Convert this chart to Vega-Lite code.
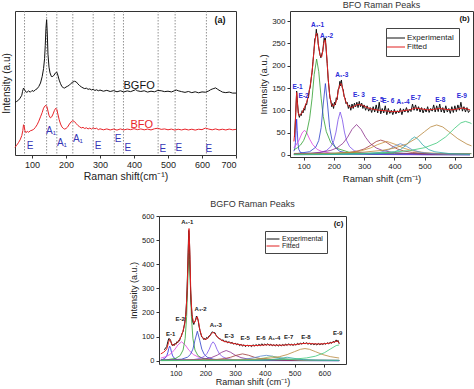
{
"$schema": "https://vega.github.io/schema/vega-lite/v6.json",
"padding": 0,
"background": "white",
"config": {
  "font": "Liberation Sans",
  "view": {"stroke": "#333", "strokeWidth": 1},
  "axis": {"grid": false, "domain": false, "tickColor": "#333", "labelColor": "#222", "titleColor": "#222", "titleFontWeight": "normal", "tickSize": 3, "labelPadding": 2, "titlePadding": 3},
  "title": {"fontWeight": "normal", "color": "#333", "fontSize": 9, "offset": 3}
},
"datasets": {
  "aSpec": [
    {"s":"BGFO","x":50,"y":36.5},{"s":"BGFO","x":55,"y":37.2},{"s":"BGFO","x":60,"y":38},{"s":"BGFO","x":65,"y":39.5},{"s":"BGFO","x":70,"y":41.5},{"s":"BGFO","x":72,"y":44},{"s":"BGFO","x":75,"y":46.5},{"s":"BGFO","x":78,"y":45.5},{"s":"BGFO","x":81,"y":44},{"s":"BGFO","x":85,"y":43.5},{"s":"BGFO","x":90,"y":44.5},{"s":"BGFO","x":95,"y":43.6},{"s":"BGFO","x":100,"y":44.8},{"s":"BGFO","x":105,"y":44.2},{"s":"BGFO","x":110,"y":45.3},{"s":"BGFO","x":115,"y":46},{"s":"BGFO","x":120,"y":47.6},{"s":"BGFO","x":125,"y":50},{"s":"BGFO","x":130,"y":54.5},{"s":"BGFO","x":134,"y":60},{"s":"BGFO","x":137,"y":67},{"s":"BGFO","x":139,"y":76},{"s":"BGFO","x":141,"y":88},{"s":"BGFO","x":143,"y":94},{"s":"BGFO","x":145,"y":84},{"s":"BGFO","x":147,"y":70},{"s":"BGFO","x":150,"y":61},{"s":"BGFO","x":153,"y":57},{"s":"BGFO","x":157,"y":54.5},{"s":"BGFO","x":161,"y":54.5},{"s":"BGFO","x":165,"y":55.5},{"s":"BGFO","x":169,"y":57},{"s":"BGFO","x":173,"y":57.5},{"s":"BGFO","x":176,"y":55.5},{"s":"BGFO","x":180,"y":52},{"s":"BGFO","x":184,"y":49.5},{"s":"BGFO","x":188,"y":47.5},{"s":"BGFO","x":192,"y":46.8},{"s":"BGFO","x":196,"y":46.5},{"s":"BGFO","x":200,"y":47.2},{"s":"BGFO","x":205,"y":47.8},{"s":"BGFO","x":210,"y":48.5},{"s":"BGFO","x":215,"y":49.8},{"s":"BGFO","x":220,"y":50.6},{"s":"BGFO","x":225,"y":51.2},{"s":"BGFO","x":230,"y":50.8},{"s":"BGFO","x":235,"y":49.4},{"s":"BGFO","x":240,"y":48.2},{"s":"BGFO","x":245,"y":47.3},{"s":"BGFO","x":250,"y":46.6},{"s":"BGFO","x":255,"y":46.1},{"s":"BGFO","x":260,"y":46.4},{"s":"BGFO","x":265,"y":45.6},{"s":"BGFO","x":270,"y":45.9},{"s":"BGFO","x":275,"y":45.2},{"s":"BGFO","x":280,"y":45.7},{"s":"BGFO","x":285,"y":44.8},{"s":"BGFO","x":290,"y":45.3},{"s":"BGFO","x":295,"y":44.6},{"s":"BGFO","x":300,"y":45.1},{"s":"BGFO","x":310,"y":44.3},{"s":"BGFO","x":320,"y":44.9},{"s":"BGFO","x":330,"y":44.1},{"s":"BGFO","x":340,"y":44.7},{"s":"BGFO","x":350,"y":43.9},{"s":"BGFO","x":360,"y":44.6},{"s":"BGFO","x":370,"y":43.8},{"s":"BGFO","x":380,"y":44.5},{"s":"BGFO","x":390,"y":44},{"s":"BGFO","x":400,"y":44.9},{"s":"BGFO","x":405,"y":45.4},{"s":"BGFO","x":410,"y":44.6},{"s":"BGFO","x":420,"y":44.1},{"s":"BGFO","x":430,"y":44.6},{"s":"BGFO","x":440,"y":43.7},{"s":"BGFO","x":450,"y":44.3},{"s":"BGFO","x":460,"y":43.9},{"s":"BGFO","x":470,"y":44.8},{"s":"BGFO","x":480,"y":44.6},{"s":"BGFO","x":490,"y":44},{"s":"BGFO","x":500,"y":44.3},{"s":"BGFO","x":510,"y":43.8},{"s":"BGFO","x":520,"y":44.7},{"s":"BGFO","x":525,"y":45.1},{"s":"BGFO","x":530,"y":44.6},{"s":"BGFO","x":540,"y":44},{"s":"BGFO","x":550,"y":43.5},{"s":"BGFO","x":560,"y":44.1},{"s":"BGFO","x":570,"y":43.3},{"s":"BGFO","x":580,"y":43.9},{"s":"BGFO","x":590,"y":43.2},{"s":"BGFO","x":600,"y":43.8},{"s":"BGFO","x":610,"y":43.6},{"s":"BGFO","x":620,"y":44.5},{"s":"BGFO","x":625,"y":45.3},{"s":"BGFO","x":630,"y":45.8},{"s":"BGFO","x":635,"y":46.2},{"s":"BGFO","x":640,"y":46.6},{"s":"BGFO","x":645,"y":45.8},{"s":"BGFO","x":650,"y":45},{"s":"BGFO","x":655,"y":44.4},{"s":"BGFO","x":660,"y":43.7},{"s":"BGFO","x":670,"y":43.3},{"s":"BGFO","x":680,"y":43.7},{"s":"BGFO","x":690,"y":43},{"s":"BGFO","x":700,"y":43},
    {"s":"BFO","x":50,"y":5.3},{"s":"BFO","x":55,"y":6.8},{"s":"BFO","x":60,"y":8.5},{"s":"BFO","x":65,"y":10.5},{"s":"BFO","x":70,"y":13.5},{"s":"BFO","x":73,"y":17},{"s":"BFO","x":75,"y":21},{"s":"BFO","x":77,"y":20},{"s":"BFO","x":79,"y":17},{"s":"BFO","x":82,"y":15.5},{"s":"BFO","x":86,"y":16.4},{"s":"BFO","x":90,"y":15.8},{"s":"BFO","x":95,"y":16.8},{"s":"BFO","x":100,"y":17.2},{"s":"BFO","x":105,"y":17.8},{"s":"BFO","x":110,"y":19.2},{"s":"BFO","x":115,"y":21},{"s":"BFO","x":120,"y":23.5},{"s":"BFO","x":125,"y":26.5},{"s":"BFO","x":130,"y":29.5},{"s":"BFO","x":134,"y":32.5},{"s":"BFO","x":138,"y":34},{"s":"BFO","x":141,"y":34.5},{"s":"BFO","x":144,"y":33.5},{"s":"BFO","x":147,"y":30.5},{"s":"BFO","x":150,"y":27.5},{"s":"BFO","x":154,"y":25.8},{"s":"BFO","x":158,"y":26.5},{"s":"BFO","x":162,"y":28.5},{"s":"BFO","x":166,"y":31},{"s":"BFO","x":170,"y":32.5},{"s":"BFO","x":173,"y":31.6},{"s":"BFO","x":176,"y":28.5},{"s":"BFO","x":180,"y":24.5},{"s":"BFO","x":184,"y":21.5},{"s":"BFO","x":188,"y":19.5},{"s":"BFO","x":192,"y":18.5},{"s":"BFO","x":196,"y":18},{"s":"BFO","x":200,"y":18.4},{"s":"BFO","x":205,"y":19.5},{"s":"BFO","x":210,"y":21.5},{"s":"BFO","x":215,"y":23},{"s":"BFO","x":220,"y":23.8},{"s":"BFO","x":225,"y":23.2},{"s":"BFO","x":230,"y":21.8},{"s":"BFO","x":235,"y":20.5},{"s":"BFO","x":240,"y":19.6},{"s":"BFO","x":245,"y":18.8},{"s":"BFO","x":250,"y":19.2},{"s":"BFO","x":255,"y":18.4},{"s":"BFO","x":260,"y":18.9},{"s":"BFO","x":265,"y":18.1},{"s":"BFO","x":270,"y":18.7},{"s":"BFO","x":275,"y":18},{"s":"BFO","x":280,"y":19},{"s":"BFO","x":285,"y":18.2},{"s":"BFO","x":290,"y":18.6},{"s":"BFO","x":295,"y":17.6},{"s":"BFO","x":300,"y":18.2},{"s":"BFO","x":310,"y":17.5},{"s":"BFO","x":320,"y":18.1},{"s":"BFO","x":330,"y":17.4},{"s":"BFO","x":340,"y":18},{"s":"BFO","x":350,"y":17.3},{"s":"BFO","x":360,"y":18.1},{"s":"BFO","x":370,"y":17.4},{"s":"BFO","x":380,"y":18},{"s":"BFO","x":390,"y":17.6},{"s":"BFO","x":400,"y":18.3},{"s":"BFO","x":410,"y":17.6},{"s":"BFO","x":420,"y":18.1},{"s":"BFO","x":430,"y":17.5},{"s":"BFO","x":440,"y":18},{"s":"BFO","x":450,"y":17.4},{"s":"BFO","x":460,"y":18.2},{"s":"BFO","x":470,"y":18.6},{"s":"BFO","x":480,"y":17.8},{"s":"BFO","x":490,"y":18.1},{"s":"BFO","x":500,"y":17.5},{"s":"BFO","x":510,"y":18},{"s":"BFO","x":520,"y":17.3},{"s":"BFO","x":530,"y":17.9},{"s":"BFO","x":540,"y":17.4},{"s":"BFO","x":550,"y":18},{"s":"BFO","x":560,"y":17.4},{"s":"BFO","x":570,"y":17.9},{"s":"BFO","x":580,"y":17.3},{"s":"BFO","x":590,"y":17.9},{"s":"BFO","x":600,"y":17.6},{"s":"BFO","x":610,"y":18.7},{"s":"BFO","x":620,"y":18},{"s":"BFO","x":630,"y":17.5},{"s":"BFO","x":640,"y":18.1},{"s":"BFO","x":650,"y":17.4},{"s":"BFO","x":660,"y":17.9},{"s":"BFO","x":670,"y":17.4},{"s":"BFO","x":680,"y":18},{"s":"BFO","x":690,"y":17.5},{"s":"BFO","x":700,"y":17.8}
  ],
  "aRules": [{"x":78},{"x":143},{"x":173},{"x":220},{"x":280},{"x":342},{"x":369},{"x":471},{"x":521},{"x":613}],
  "aLab": [{"x":94,"y":6,"t":"E"},{"x":156,"y":17,"t":"A₁"},{"x":188,"y":8,"t":"A₁"},{"x":235,"y":11,"t":"A₁"},{"x":294,"y":6,"t":"E"},{"x":353,"y":11,"t":"E"},{"x":382,"y":4.6,"t":"E"},{"x":485,"y":4,"t":"E"},{"x":532,"y":4.6,"t":"E"},{"x":620,"y":4,"t":"E"}],
  "bExp": [
    {"x":70,"y":40},{"x":74,"y":95},{"x":77,"y":143},{"x":80,"y":115},{"x":83,"y":92},{"x":86,"y":84},{"x":89,"y":92},{"x":92,"y":88},{"x":95,"y":99},{"x":98,"y":94},{"x":101,"y":104},{"x":104,"y":100},{"x":107,"y":114},{"x":110,"y":112},{"x":113,"y":126},{"x":116,"y":128},{"x":119,"y":146},{"x":122,"y":152},{"x":125,"y":172},{"x":128,"y":185},{"x":131,"y":210},{"x":134,"y":232},{"x":137,"y":260},{"x":140,"y":264},{"x":142,"y":282},{"x":144,"y":268},{"x":146,"y":272},{"x":148,"y":250},{"x":151,"y":238},{"x":154,"y":226},{"x":157,"y":218},{"x":160,"y":226},{"x":163,"y":232},{"x":166,"y":250},{"x":168,"y":262},{"x":170,"y":255},{"x":172,"y":262},{"x":175,"y":232},{"x":178,"y":205},{"x":181,"y":172},{"x":184,"y":150},{"x":187,"y":128},{"x":190,"y":122},{"x":193,"y":108},{"x":196,"y":115},{"x":199,"y":104},{"x":202,"y":118},{"x":205,"y":112},{"x":208,"y":128},{"x":211,"y":124},{"x":214,"y":146},{"x":217,"y":150},{"x":220,"y":165},{"x":222,"y":155},{"x":225,"y":168},{"x":228,"y":150},{"x":231,"y":146},{"x":234,"y":130},{"x":237,"y":128},{"x":240,"y":115},{"x":244,"y":118},{"x":248,"y":104},{"x":252,"y":112},{"x":256,"y":100},{"x":260,"y":114},{"x":264,"y":104},{"x":268,"y":116},{"x":272,"y":108},{"x":276,"y":118},{"x":280,"y":106},{"x":284,"y":120},{"x":288,"y":108},{"x":292,"y":116},{"x":296,"y":104},{"x":300,"y":112},{"x":305,"y":100},{"x":310,"y":110},{"x":315,"y":98},{"x":320,"y":106},{"x":325,"y":95},{"x":330,"y":108},{"x":335,"y":96},{"x":340,"y":112},{"x":345,"y":94},{"x":350,"y":118},{"x":355,"y":92},{"x":360,"y":104},{"x":365,"y":94},{"x":370,"y":110},{"x":375,"y":90},{"x":380,"y":104},{"x":385,"y":93},{"x":390,"y":100},{"x":395,"y":90},{"x":400,"y":102},{"x":405,"y":92},{"x":410,"y":99},{"x":415,"y":94},{"x":420,"y":104},{"x":425,"y":90},{"x":430,"y":103},{"x":435,"y":96},{"x":440,"y":106},{"x":445,"y":95},{"x":450,"y":102},{"x":455,"y":97},{"x":460,"y":114},{"x":465,"y":100},{"x":470,"y":112},{"x":475,"y":99},{"x":480,"y":108},{"x":485,"y":96},{"x":490,"y":106},{"x":495,"y":94},{"x":500,"y":104},{"x":505,"y":96},{"x":510,"y":108},{"x":515,"y":95},{"x":520,"y":104},{"x":525,"y":98},{"x":530,"y":112},{"x":535,"y":96},{"x":540,"y":110},{"x":545,"y":97},{"x":550,"y":114},{"x":555,"y":96},{"x":560,"y":106},{"x":565,"y":94},{"x":570,"y":110},{"x":575,"y":96},{"x":580,"y":104},{"x":585,"y":93},{"x":590,"y":108},{"x":595,"y":95},{"x":600,"y":110},{"x":605,"y":97},{"x":610,"y":112},{"x":615,"y":100},{"x":620,"y":118},{"x":625,"y":98},{"x":630,"y":108},{"x":635,"y":96},{"x":640,"y":106},{"x":645,"y":95},{"x":650,"y":100}
  ],
  "bFit": [
    {"x":68,"y":30},{"x":72,"y":60},{"x":75,"y":110},{"x":77,"y":140},{"x":79,"y":120},{"x":82,"y":95},{"x":86,"y":88},{"x":90,"y":90},{"x":95,"y":95},{"x":100,"y":102},{"x":105,"y":110},{"x":110,"y":118},{"x":115,"y":130},{"x":120,"y":148},{"x":125,"y":170},{"x":130,"y":200},{"x":135,"y":240},{"x":140,"y":268},{"x":143,"y":273},{"x":146,"y":265},{"x":150,"y":240},{"x":155,"y":222},{"x":160,"y":220},{"x":165,"y":240},{"x":168,"y":255},{"x":171,"y":258},{"x":174,"y":245},{"x":178,"y":205},{"x":182,"y":165},{"x":186,"y":135},{"x":190,"y":118},{"x":195,"y":110},{"x":200,"y":110},{"x":205,"y":115},{"x":210,"y":125},{"x":215,"y":145},{"x":220,"y":158},{"x":224,"y":160},{"x":228,"y":152},{"x":232,"y":138},{"x":238,"y":122},{"x":245,"y":112},{"x":255,"y":106},{"x":265,"y":108},{"x":275,"y":112},{"x":285,"y":113},{"x":295,"y":111},{"x":310,"y":106},{"x":330,"y":102},{"x":350,"y":100},{"x":370,"y":99},{"x":390,"y":97},{"x":410,"y":97},{"x":430,"y":99},{"x":450,"y":101},{"x":470,"y":105},{"x":490,"y":103},{"x":510,"y":101},{"x":530,"y":102},{"x":550,"y":104},{"x":570,"y":102},{"x":590,"y":101},{"x":610,"y":103},{"x":625,"y":105},{"x":640,"y":103},{"x":650,"y":101}
  ],
  "bComp": [
    {"c":"base","x":68,"y":3},{"c":"base","x":200,"y":3.5},{"c":"base","x":400,"y":3},{"c":"base","x":655,"y":2.5},
    {"c":"E-1","x":68,"y":8},{"c":"E-1","x":71,"y":15},{"c":"E-1","x":73,"y":28},{"c":"E-1","x":75,"y":55},{"c":"E-1","x":77,"y":80},{"c":"E-1","x":79,"y":55},{"c":"E-1","x":81,"y":28},{"c":"E-1","x":84,"y":12},{"c":"E-1","x":90,"y":5},{"c":"E-1","x":100,"y":3},{"c":"E-1","x":150,"y":2},{"c":"E-1","x":300,"y":1},{"c":"E-1","x":650,"y":0.5},
    {"c":"E-2","x":68,"y":16},{"c":"E-2","x":75,"y":22},{"c":"E-2","x":85,"y":33},{"c":"E-2","x":95,"y":49},{"c":"E-2","x":103,"y":55},{"c":"E-2","x":110,"y":50},{"c":"E-2","x":120,"y":35},{"c":"E-2","x":130,"y":23},{"c":"E-2","x":145,"y":12},{"c":"E-2","x":160,"y":7.4},{"c":"E-2","x":190,"y":3.4},{"c":"E-2","x":250,"y":1.2},{"c":"E-2","x":400,"y":0.4},{"c":"E-2","x":650,"y":0.2},
    {"c":"A1-1","x":68,"y":11},{"c":"A1-1","x":80,"y":16},{"c":"A1-1","x":90,"y":22},{"c":"A1-1","x":100,"y":32},{"c":"A1-1","x":110,"y":49},{"c":"A1-1","x":120,"y":82},{"c":"A1-1","x":128,"y":127},{"c":"A1-1","x":135,"y":180},{"c":"A1-1","x":143,"y":215},{"c":"A1-1","x":150,"y":187},{"c":"A1-1","x":158,"y":127},{"c":"A1-1","x":165,"y":86},{"c":"A1-1","x":175,"y":52},{"c":"A1-1","x":190,"y":27},{"c":"A1-1","x":210,"y":14.4},{"c":"A1-1","x":250,"y":5.8},{"c":"A1-1","x":300,"y":2.8},{"c":"A1-1","x":400,"y":1},{"c":"A1-1","x":500,"y":0.5},{"c":"A1-1","x":650,"y":0.3},
    {"c":"A1-2","x":68,"y":1.6},{"c":"A1-2","x":120,"y":6.9},{"c":"A1-2","x":140,"y":17},{"c":"A1-2","x":150,"y":32},{"c":"A1-2","x":158,"y":61},{"c":"A1-2","x":165,"y":114},{"c":"A1-2","x":172,"y":160},{"c":"A1-2","x":179,"y":114},{"c":"A1-2","x":186,"y":61},{"c":"A1-2","x":194,"y":32},{"c":"A1-2","x":205,"y":16},{"c":"A1-2","x":220,"y":7.6},{"c":"A1-2","x":250,"y":3.2},{"c":"A1-2","x":350,"y":0.6},{"c":"A1-2","x":650,"y":0.1},
    {"c":"A1-3","x":68,"y":0.8},{"c":"A1-3","x":120,"y":2},{"c":"A1-3","x":150,"y":4.2},{"c":"A1-3","x":175,"y":9.3},{"c":"A1-3","x":190,"y":18.4},{"c":"A1-3","x":200,"y":32},{"c":"A1-3","x":207,"y":51},{"c":"A1-3","x":214,"y":79},{"c":"A1-3","x":221,"y":96},{"c":"A1-3","x":228,"y":79},{"c":"A1-3","x":235,"y":51},{"c":"A1-3","x":242,"y":32},{"c":"A1-3","x":252,"y":18.3},{"c":"A1-3","x":267,"y":9.3},{"c":"A1-3","x":290,"y":4.3},{"c":"A1-3","x":350,"y":1.3},{"c":"A1-3","x":500,"y":0.3},{"c":"A1-3","x":650,"y":0.15},
    {"c":"E-3","x":68,"y":1.9},{"c":"E-3","x":120,"y":3.3},{"c":"E-3","x":160,"y":5.9},{"c":"E-3","x":190,"y":9.9},{"c":"E-3","x":210,"y":15.3},{"c":"E-3","x":230,"y":25.6},{"c":"E-3","x":245,"y":39},{"c":"E-3","x":260,"y":57},{"c":"E-3","x":275,"y":68},{"c":"E-3","x":290,"y":57},{"c":"E-3","x":305,"y":39},{"c":"E-3","x":320,"y":25.6},{"c":"E-3","x":340,"y":15.3},{"c":"E-3","x":360,"y":9.9},{"c":"E-3","x":390,"y":5.8},{"c":"E-3","x":430,"y":3.3},{"c":"E-3","x":500,"y":1.4},{"c":"E-3","x":650,"y":0.6},
    {"c":"E-5","x":68,"y":0.9},{"c":"E-5","x":150,"y":1.5},{"c":"E-5","x":200,"y":2.6},{"c":"E-5","x":250,"y":5.1},{"c":"E-5","x":280,"y":8.7},{"c":"E-5","x":300,"y":13},{"c":"E-5","x":320,"y":20.5},{"c":"E-5","x":340,"y":29.7},{"c":"E-5","x":355,"y":33},{"c":"E-5","x":370,"y":29.7},{"c":"E-5","x":390,"y":20.5},{"c":"E-5","x":410,"y":13},{"c":"E-5","x":430,"y":8.7},{"c":"E-5","x":460,"y":5.1},{"c":"E-5","x":510,"y":2.6},{"c":"E-5","x":600,"y":1.1},{"c":"E-5","x":650,"y":0.8},
    {"c":"E-6","x":68,"y":1},{"c":"E-6","x":150,"y":1.7},{"c":"E-6","x":200,"y":2.7},{"c":"E-6","x":250,"y":4.9},{"c":"E-6","x":290,"y":8.9},{"c":"E-6","x":320,"y":15},{"c":"E-6","x":345,"y":23},{"c":"E-6","x":375,"y":30},{"c":"E-6","x":405,"y":23},{"c":"E-6","x":430,"y":15},{"c":"E-6","x":460,"y":8.9},{"c":"E-6","x":500,"y":4.9},{"c":"E-6","x":560,"y":2.4},{"c":"E-6","x":650,"y":1.2},
    {"c":"A1-4","x":68,"y":0.3},{"c":"A1-4","x":200,"y":0.6},{"c":"A1-4","x":300,"y":1.9},{"c":"A1-4","x":350,"y":5},{"c":"A1-4","x":380,"y":10.8},{"c":"A1-4","x":400,"y":19},{"c":"A1-4","x":420,"y":25},{"c":"A1-4","x":440,"y":19},{"c":"A1-4","x":460,"y":10.8},{"c":"A1-4","x":490,"y":5},{"c":"A1-4","x":540,"y":1.9},{"c":"A1-4","x":650,"y":0.6},
    {"c":"E-7","x":68,"y":0.3},{"c":"E-7","x":250,"y":0.8},{"c":"E-7","x":350,"y":2.5},{"c":"E-7","x":400,"y":6.7},{"c":"E-7","x":420,"y":11.6},{"c":"E-7","x":440,"y":22},{"c":"E-7","x":455,"y":34.5},{"c":"E-7","x":467,"y":40},{"c":"E-7","x":479,"y":34.5},{"c":"E-7","x":494,"y":22},{"c":"E-7","x":514,"y":11.6},{"c":"E-7","x":534,"y":6.7},{"c":"E-7","x":584,"y":2.5},{"c":"E-7","x":650,"y":1.1},
    {"c":"E-8","x":68,"y":1.6},{"c":"E-8","x":100,"y":1.9},{"c":"E-8","x":200,"y":3.4},{"c":"E-8","x":300,"y":6},{"c":"E-8","x":360,"y":9.9},{"c":"E-8","x":400,"y":15},{"c":"E-8","x":440,"y":24},{"c":"E-8","x":470,"y":36},{"c":"E-8","x":500,"y":52},{"c":"E-8","x":520,"y":62.5},{"c":"E-8","x":540,"y":67},{"c":"E-8","x":560,"y":62.5},{"c":"E-8","x":580,"y":52},{"c":"E-8","x":610,"y":36},{"c":"E-8","x":640,"y":24},{"c":"E-8","x":655,"y":20},
    {"c":"E-9","x":68,"y":0.9},{"c":"E-9","x":100,"y":1.2},{"c":"E-9","x":200,"y":1.9},{"c":"E-9","x":300,"y":3.1},{"c":"E-9","x":400,"y":6.1},{"c":"E-9","x":450,"y":9.4},{"c":"E-9","x":500,"y":15.9},{"c":"E-9","x":540,"y":26.4},{"c":"E-9","x":570,"y":40.3},{"c":"E-9","x":600,"y":60},{"c":"E-9","x":620,"y":71.7},{"c":"E-9","x":635,"y":75},{"c":"E-9","x":650,"y":71.7},{"c":"E-9","x":655,"y":70}
  ],
  "bLab": [{"x":80,"y":153,"t":"E-1"},{"x":100,"y":133,"t":"E-2"},{"x":146,"y":291,"t":"A₁-1"},{"x":176,"y":267,"t":"A₁-2"},{"x":226,"y":179,"t":"A₁-3"},{"x":283,"y":134,"t":"E- 3"},{"x":345,"y":124,"t":"E- 5"},{"x":380,"y":121,"t":"E- 6"},{"x":429,"y":119,"t":"A₁-4"},{"x":471,"y":127,"t":"E-7"},{"x":552,"y":124,"t":"E-8"},{"x":623,"y":133,"t":"E-9"}],
  "cExp": [
    {"x":62,"y":45},{"x":66,"y":52},{"x":70,"y":58},{"x":74,"y":80},{"x":77,"y":92},{"x":80,"y":90},{"x":83,"y":84},{"x":86,"y":70},{"x":89,"y":62},{"x":92,"y":68},{"x":95,"y":63},{"x":98,"y":72},{"x":101,"y":68},{"x":104,"y":78},{"x":107,"y":74},{"x":110,"y":84},{"x":113,"y":82},{"x":116,"y":96},{"x":119,"y":100},{"x":122,"y":114},{"x":125,"y":120},{"x":128,"y":140},{"x":131,"y":160},{"x":134,"y":190},{"x":137,"y":250},{"x":140,"y":360},{"x":142,"y":450},{"x":144,"y":540},{"x":146,"y":520},{"x":148,"y":420},{"x":150,"y":310},{"x":152,"y":240},{"x":155,"y":190},{"x":158,"y":160},{"x":161,"y":150},{"x":164,"y":162},{"x":167,"y":168},{"x":170,"y":185},{"x":173,"y":178},{"x":176,"y":165},{"x":179,"y":140},{"x":182,"y":124},{"x":185,"y":110},{"x":188,"y":98},{"x":191,"y":96},{"x":194,"y":88},{"x":197,"y":92},{"x":200,"y":86},{"x":204,"y":96},{"x":208,"y":92},{"x":212,"y":102},{"x":216,"y":104},{"x":220,"y":114},{"x":224,"y":120},{"x":228,"y":115},{"x":232,"y":116},{"x":236,"y":104},{"x":240,"y":100},{"x":245,"y":92},{"x":250,"y":90},{"x":255,"y":84},{"x":260,"y":86},{"x":265,"y":78},{"x":270,"y":82},{"x":275,"y":74},{"x":280,"y":79},{"x":285,"y":72},{"x":290,"y":76},{"x":295,"y":68},{"x":300,"y":73},{"x":305,"y":66},{"x":310,"y":70},{"x":315,"y":62},{"x":320,"y":68},{"x":325,"y":60},{"x":330,"y":66},{"x":335,"y":58},{"x":340,"y":65},{"x":345,"y":60},{"x":350,"y":64},{"x":355,"y":58},{"x":360,"y":66},{"x":365,"y":60},{"x":370,"y":67},{"x":375,"y":61},{"x":380,"y":68},{"x":385,"y":62},{"x":390,"y":70},{"x":395,"y":63},{"x":400,"y":69},{"x":405,"y":64},{"x":410,"y":70},{"x":415,"y":63},{"x":420,"y":68},{"x":425,"y":62},{"x":430,"y":66},{"x":435,"y":61},{"x":440,"y":67},{"x":445,"y":60},{"x":450,"y":66},{"x":455,"y":61},{"x":460,"y":67},{"x":465,"y":62},{"x":470,"y":69},{"x":475,"y":63},{"x":480,"y":70},{"x":485,"y":64},{"x":490,"y":68},{"x":495,"y":63},{"x":500,"y":69},{"x":505,"y":64},{"x":510,"y":72},{"x":515,"y":66},{"x":520,"y":73},{"x":525,"y":68},{"x":530,"y":75},{"x":535,"y":69},{"x":540,"y":74},{"x":545,"y":68},{"x":550,"y":72},{"x":555,"y":67},{"x":560,"y":71},{"x":565,"y":66},{"x":570,"y":70},{"x":575,"y":65},{"x":580,"y":71},{"x":585,"y":66},{"x":590,"y":70},{"x":595,"y":67},{"x":600,"y":72},{"x":605,"y":68},{"x":610,"y":74},{"x":615,"y":70},{"x":620,"y":76},{"x":625,"y":72},{"x":630,"y":80},{"x":635,"y":76},{"x":640,"y":86},{"x":643,"y":78},{"x":646,"y":84},{"x":650,"y":70}
  ],
  "cFit": [
    {"x":50,"y":28},{"x":60,"y":35},{"x":70,"y":48},{"x":76,"y":75},{"x":80,"y":88},{"x":84,"y":78},{"x":89,"y":64},{"x":95,"y":65},{"x":100,"y":70},{"x":106,"y":76},{"x":112,"y":84},{"x":118,"y":100},{"x":124,"y":120},{"x":130,"y":150},{"x":135,"y":200},{"x":139,"y":300},{"x":142,"y":440},{"x":145,"y":548},{"x":148,"y":440},{"x":151,"y":280},{"x":155,"y":190},{"x":160,"y":158},{"x":165,"y":160},{"x":170,"y":178},{"x":173,"y":182},{"x":177,"y":160},{"x":182,"y":125},{"x":188,"y":100},{"x":195,"y":90},{"x":202,"y":88},{"x":210,"y":95},{"x":218,"y":108},{"x":226,"y":118},{"x":232,"y":112},{"x":240,"y":98},{"x":250,"y":88},{"x":262,"y":80},{"x":280,"y":75},{"x":300,"y":70},{"x":330,"y":63},{"x":360,"y":62},{"x":390,"y":64},{"x":410,"y":66},{"x":430,"y":64},{"x":460,"y":64},{"x":480,"y":66},{"x":500,"y":66},{"x":520,"y":70},{"x":540,"y":72},{"x":560,"y":70},{"x":580,"y":69},{"x":600,"y":70},{"x":620,"y":73},{"x":635,"y":78},{"x":645,"y":82},{"x":650,"y":72}
  ],
  "cComp": [
    {"c":"base","x":50,"y":2},{"c":"base","x":650,"y":2},
    {"c":"E-1","x":50,"y":3},{"c":"E-1","x":55,"y":4.4},{"c":"E-1","x":65,"y":10.7},{"c":"E-1","x":70,"y":19.7},{"c":"E-1","x":74,"y":34.6},{"c":"E-1","x":77,"y":50.7},{"c":"E-1","x":80,"y":60},{"c":"E-1","x":83,"y":50.7},{"c":"E-1","x":86,"y":34.6},{"c":"E-1","x":90,"y":19.7},{"c":"E-1","x":95,"y":10.7},{"c":"E-1","x":105,"y":4.4},{"c":"E-1","x":130,"y":1.2},{"c":"E-1","x":200,"y":0.2},{"c":"E-1","x":650,"y":0},
    {"c":"E-2","x":50,"y":10.4},{"c":"E-2","x":65,"y":15.6},{"c":"E-2","x":80,"y":25},{"c":"E-2","x":95,"y":42.7},{"c":"E-2","x":108,"y":65.5},{"c":"E-2","x":120,"y":78},{"c":"E-2","x":132,"y":65.5},{"c":"E-2","x":145,"y":42.7},{"c":"E-2","x":160,"y":25},{"c":"E-2","x":175,"y":15.6},{"c":"E-2","x":190,"y":10.4},{"c":"E-2","x":220,"y":5.4},{"c":"E-2","x":260,"y":2.8},{"c":"E-2","x":350,"y":1.1},{"c":"E-2","x":500,"y":0.4},{"c":"E-2","x":650,"y":0.2},
    {"c":"A1-1","x":50,"y":1.8},{"c":"A1-1","x":70,"y":3.5},{"c":"A1-1","x":100,"y":9.4},{"c":"A1-1","x":115,"y":20.6},{"c":"A1-1","x":125,"y":44},{"c":"A1-1","x":132,"y":92},{"c":"A1-1","x":137,"y":183},{"c":"A1-1","x":141,"y":333},{"c":"A1-1","x":145,"y":460},{"c":"A1-1","x":149,"y":333},{"c":"A1-1","x":153,"y":183},{"c":"A1-1","x":158,"y":92},{"c":"A1-1","x":165,"y":44},{"c":"A1-1","x":175,"y":20.6},{"c":"A1-1","x":190,"y":9.4},{"c":"A1-1","x":220,"y":3.5},{"c":"A1-1","x":300,"y":0.8},{"c":"A1-1","x":650,"y":0.1},
    {"c":"A1-2","x":50,"y":1.2},{"c":"A1-2","x":120,"y":5.9},{"c":"A1-2","x":140,"y":14.3},{"c":"A1-2","x":150,"y":26},{"c":"A1-2","x":158,"y":47.6},{"c":"A1-2","x":165,"y":84.5},{"c":"A1-2","x":173,"y":122},{"c":"A1-2","x":181,"y":84.5},{"c":"A1-2","x":188,"y":47.6},{"c":"A1-2","x":196,"y":26},{"c":"A1-2","x":206,"y":14.3},{"c":"A1-2","x":226,"y":5.9},{"c":"A1-2","x":260,"y":2.2},{"c":"A1-2","x":350,"y":0.6},{"c":"A1-2","x":650,"y":0.1},
    {"c":"A1-3","x":50,"y":1},{"c":"A1-3","x":120,"y":2.3},{"c":"A1-3","x":160,"y":4.3},{"c":"A1-3","x":180,"y":8.4},{"c":"A1-3","x":195,"y":16.4},{"c":"A1-3","x":205,"y":28.7},{"c":"A1-3","x":213,"y":47},{"c":"A1-3","x":220,"y":68.4},{"c":"A1-3","x":226,"y":78},{"c":"A1-3","x":232,"y":68.4},{"c":"A1-3","x":239,"y":47},{"c":"A1-3","x":247,"y":28.7},{"c":"A1-3","x":257,"y":16.4},{"c":"A1-3","x":272,"y":8.4},{"c":"A1-3","x":292,"y":4.3},{"c":"A1-3","x":350,"y":1.3},{"c":"A1-3","x":650,"y":0.2},
    {"c":"E-3","x":50,"y":1.1},{"c":"E-3","x":120,"y":2.1},{"c":"E-3","x":170,"y":4},{"c":"E-3","x":200,"y":7.4},{"c":"E-3","x":220,"y":12.5},{"c":"E-3","x":240,"y":22.7},{"c":"E-3","x":255,"y":34.6},{"c":"E-3","x":270,"y":42},{"c":"E-3","x":285,"y":34.6},{"c":"E-3","x":300,"y":22.7},{"c":"E-3","x":320,"y":12.5},{"c":"E-3","x":340,"y":7.4},{"c":"E-3","x":370,"y":4},{"c":"E-3","x":430,"y":1.6},{"c":"E-3","x":550,"y":0.6},{"c":"E-3","x":650,"y":0.4},
    {"c":"E-5","x":50,"y":0.6},{"c":"E-5","x":100,"y":0.8},{"c":"E-5","x":200,"y":2.6},{"c":"E-5","x":240,"y":5.1},{"c":"E-5","x":265,"y":8.6},{"c":"E-5","x":285,"y":14},{"c":"E-5","x":305,"y":22.4},{"c":"E-5","x":325,"y":28},{"c":"E-5","x":345,"y":22.4},{"c":"E-5","x":365,"y":14},{"c":"E-5","x":385,"y":8.6},{"c":"E-5","x":410,"y":5.1},{"c":"E-5","x":450,"y":2.6},{"c":"E-5","x":550,"y":0.9},{"c":"E-5","x":650,"y":0.5},
    {"c":"A1-4","x":50,"y":0.4},{"c":"A1-4","x":200,"y":1},{"c":"A1-4","x":260,"y":1.9},{"c":"A1-4","x":300,"y":3.4},{"c":"A1-4","x":340,"y":7.1},{"c":"A1-4","x":365,"y":12.3},{"c":"A1-4","x":385,"y":18.4},{"c":"A1-4","x":405,"y":22},{"c":"A1-4","x":425,"y":18.4},{"c":"A1-4","x":445,"y":12.3},{"c":"A1-4","x":470,"y":7.1},{"c":"A1-4","x":510,"y":3.4},{"c":"A1-4","x":550,"y":1.9},{"c":"A1-4","x":650,"y":0.7},
    {"c":"E-6","x":50,"y":0.2},{"c":"E-6","x":250,"y":0.8},{"c":"E-6","x":330,"y":2.2},{"c":"E-6","x":370,"y":5.2},{"c":"E-6","x":395,"y":10.4},{"c":"E-6","x":425,"y":18},{"c":"E-6","x":455,"y":10.4},{"c":"E-6","x":480,"y":5.2},{"c":"E-6","x":520,"y":2.2},{"c":"E-6","x":650,"y":0.5},
    {"c":"E-7","x":50,"y":0.1},{"c":"E-7","x":300,"y":0.6},{"c":"E-7","x":380,"y":1.7},{"c":"E-7","x":420,"y":4},{"c":"E-7","x":445,"y":8.1},{"c":"E-7","x":475,"y":14},{"c":"E-7","x":505,"y":8.1},{"c":"E-7","x":530,"y":4},{"c":"E-7","x":570,"y":1.7},{"c":"E-7","x":650,"y":0.5},
    {"c":"E-8","x":50,"y":1.5},{"c":"E-8","x":200,"y":2.5},{"c":"E-8","x":330,"y":3.9},{"c":"E-8","x":380,"y":6.5},{"c":"E-8","x":420,"y":10.7},{"c":"E-8","x":450,"y":16.6},{"c":"E-8","x":475,"y":25},{"c":"E-8","x":500,"y":37.3},{"c":"E-8","x":520,"y":47},{"c":"E-8","x":535,"y":50},{"c":"E-8","x":550,"y":47},{"c":"E-8","x":570,"y":37.3},{"c":"E-8","x":595,"y":25},{"c":"E-8","x":620,"y":16.6},{"c":"E-8","x":650,"y":10.7},
    {"c":"E-9","x":50,"y":0.7},{"c":"E-9","x":200,"y":1.2},{"c":"E-9","x":300,"y":1.7},{"c":"E-9","x":400,"y":2.5},{"c":"E-9","x":450,"y":3.8},{"c":"E-9","x":500,"y":6.5},{"c":"E-9","x":540,"y":11.1},{"c":"E-9","x":570,"y":18.3},{"c":"E-9","x":600,"y":32.5},{"c":"E-9","x":620,"y":47.8},{"c":"E-9","x":640,"y":62.5},{"c":"E-9","x":650,"y":65}
  ],
  "cLab": [{"x":83,"y":110,"t":"E-1"},{"x":115,"y":172,"t":"E-2"},{"x":139,"y":575,"t":"A₁-1"},{"x":184,"y":214,"t":"A₁-2"},{"x":235,"y":148,"t":"A₁-3"},{"x":280,"y":103,"t":"E-3"},{"x":334,"y":94,"t":"E-5"},{"x":387,"y":94,"t":"E-6"},{"x":432,"y":94,"t":"A₁-4"},{"x":480,"y":97,"t":"E-7"},{"x":538,"y":100,"t":"E-8"},{"x":645,"y":113,"t":"E-9"}]
},
"spacing": 16,
"vconcat": [
  {
    "spacing": 19,
    "hconcat": [
      {
        "width": 221, "height": 144,
        "title": {"text": " ", "fontSize": 5, "offset": 3},
        "encoding": {
          "x": {"field": "x", "type": "quantitative", "scale": {"domain": [50, 700], "nice": false, "zero": false}, "axis": {"values": [100,200,300,400,500,600,700], "labelFontSize": 9, "titleFontSize": 10.5, "title": "Raman shift(cm⁻¹)", "titlePadding": 2}},
          "y": {"field": "y", "type": "quantitative", "scale": {"domain": [0, 100], "nice": false, "zero": false}, "axis": {"labels": false, "ticks": false, "title": "Intensity (a.u)", "titleFontSize": 10, "titlePadding": 4}}
        },
        "layer": [
          {"data": {"name": "aRules"}, "mark": {"type": "rule", "strokeDash": [1.5, 1.5], "color": "#777", "strokeWidth": 0.8}, "encoding": {"y": {"value": 0}, "y2": {"value": 144}}},
          {"data": {"name": "aSpec"}, "mark": {"type": "line", "strokeWidth": 1}, "encoding": {"color": {"field": "s", "type": "nominal", "scale": {"domain": ["BGFO", "BFO"], "range": ["#111111", "#e8242a"]}, "legend": null}}},
          {"data": {"name": "aLab"}, "mark": {"type": "text", "fontSize": 10, "color": "#3535b5", "baseline": "middle"}, "encoding": {"text": {"field": "t"}}},
          {"data": {"values": [{"x": 415, "y": 48, "t": "BGFO"}]}, "mark": {"type": "text", "fontSize": 11, "color": "#111", "baseline": "middle"}, "encoding": {"text": {"field": "t"}}},
          {"data": {"values": [{"x": 423, "y": 20.5, "t": "BFO"}]}, "mark": {"type": "text", "fontSize": 11, "color": "#e8242a", "baseline": "middle"}, "encoding": {"text": {"field": "t"}}},
          {"data": {"values": [{"x": 653, "y": 94, "t": "(a)"}]}, "mark": {"type": "text", "fontSize": 9, "fontWeight": "bold", "color": "#111", "baseline": "middle"}, "encoding": {"text": {"field": "t"}}}
        ]
      },
      {
        "width": 183, "height": 146,
        "title": {"text": "BFO Raman Peaks", "offset": 1},
        "encoding": {
          "x": {"field": "x", "type": "quantitative", "scale": {"domain": [55, 660], "nice": false, "zero": false}, "axis": {"values": [100,200,300,400,500,600], "labelFontSize": 8, "titleFontSize": 9.5, "title": "Raman shift (cm⁻¹)"}},
          "y": {"field": "y", "type": "quantitative", "scale": {"domain": [-5, 323], "nice": false, "zero": false}, "axis": {"values": [0,50,100,150,200,250,300], "labelFontSize": 8, "titleFontSize": 9.5, "title": "Intensity (a.u.)"}}
        },
        "resolve": {"scale": {"color": "independent"}, "legend": {"color": "independent"}},
        "layer": [
          {"data": {"name": "bComp"}, "mark": {"type": "line", "strokeWidth": 0.8, "clip": true}, "encoding": {"color": {"field": "c", "type": "nominal", "scale": {"domain": ["base","E-1","E-2","A1-1","A1-2","A1-3","E-3","E-5","E-6","A1-4","E-7","E-8","E-9"], "range": ["#4b6b3a","#2a2ae0","#e040e0","#2ea02e","#2b3ec8","#7a4ee8","#8a2e8a","#a03838","#c8903c","#5a8ad0","#30a8a8","#b8863c","#3cc878"]}, "legend": null}}},
          {
            "layer": [
              {"data": {"name": "bExp"}, "mark": {"type": "line", "strokeWidth": 1}, "encoding": {"color": {"datum": "Experimental", "type": "nominal", "scale": {"domain": ["Experimental", "Fitted"], "range": ["#111111", "#e02020"]}, "legend": {"orient": "none", "legendX": 96, "legendY": 17, "title": null, "symbolType": "M-2,0H2", "symbolSize": 81, "symbolStrokeWidth": 1, "labelFontSize": 8, "labelColor": "#222", "strokeColor": "#444", "fillColor": "white", "padding": 5, "rowPadding": 0, "labelOffset": 6}}}},
              {"data": {"name": "bFit"}, "mark": {"type": "line", "strokeWidth": 1}, "encoding": {"color": {"datum": "Fitted", "type": "nominal"}}}
            ]
          },
          {"data": {"name": "bLab"}, "mark": {"type": "text", "fontSize": 6.5, "fontWeight": "bold", "color": "#2a2ad8", "baseline": "middle"}, "encoding": {"text": {"field": "t"}}},
          {"data": {"values": [{"x": 632, "y": 306, "t": "(b)"}]}, "mark": {"type": "text", "fontSize": 8, "fontWeight": "bold", "color": "#111", "baseline": "middle"}, "encoding": {"text": {"field": "t"}}}
        ]
      }
    ]
  },
  {
    "spacing": 0,
    "hconcat": [
      {"width": 113, "height": 140, "view": {"stroke": null}, "data": {"values": [{"a": 1}]}, "mark": {"type": "point", "opacity": 0}, "encoding": {}},
      {
        "width": 187, "height": 148,
        "title": {"text": "BGFO Raman Peaks"},
        "encoding": {
          "x": {"field": "x", "type": "quantitative", "scale": {"domain": [44, 673], "nice": false, "zero": false}, "axis": {"values": [100,200,300,400,500,600], "labelFontSize": 7.5, "titleFontSize": 9, "title": "Raman shift (cm⁻¹)", "titlePadding": 1}},
          "y": {"field": "y", "type": "quantitative", "scale": {"domain": [-14, 600], "nice": false, "zero": false}, "axis": {"values": [0,100,200,300,400,500,600], "labelFontSize": 7.5, "titleFontSize": 9, "title": "Intensity (a.u.)"}}
        },
        "resolve": {"scale": {"color": "independent"}, "legend": {"color": "independent"}},
        "layer": [
          {"data": {"name": "cComp"}, "mark": {"type": "line", "strokeWidth": 0.8, "clip": true}, "encoding": {"color": {"field": "c", "type": "nominal", "scale": {"domain": ["base","E-1","E-2","A1-1","A1-2","A1-3","E-3","E-5","E-6","A1-4","E-7","E-8","E-9"], "range": ["#3f7a6a","#2a2ae0","#e040e0","#2ea02e","#2b3ec8","#7a4ee8","#8a2e8a","#a03838","#8fbf6a","#5a8ad0","#30a8a8","#b8863c","#3cc878"]}, "legend": null}}},
          {
            "layer": [
              {"data": {"name": "cExp"}, "mark": {"type": "line", "strokeWidth": 1}, "encoding": {"color": {"datum": "Experimental", "type": "nominal", "scale": {"domain": ["Experimental", "Fitted"], "range": ["#111111", "#e02020"]}, "legend": {"orient": "none", "legendX": 106, "legendY": 15, "title": null, "symbolType": "M-2,0H2", "symbolSize": 42, "symbolStrokeWidth": 1, "labelFontSize": 7, "labelColor": "#222", "strokeColor": "#444", "fillColor": "white", "padding": 4, "rowPadding": 0, "labelOffset": 5}}}},
              {"data": {"name": "cFit"}, "mark": {"type": "line", "strokeWidth": 1}, "encoding": {"color": {"datum": "Fitted", "type": "nominal"}}}
            ]
          },
          {"data": {"name": "cLab"}, "mark": {"type": "text", "fontSize": 6, "fontWeight": "bold", "color": "#222", "baseline": "middle"}, "encoding": {"text": {"field": "t"}}},
          {"data": {"values": [{"x": 648, "y": 567, "t": "(c)"}]}, "mark": {"type": "text", "fontSize": 8, "fontWeight": "bold", "color": "#111", "baseline": "middle"}, "encoding": {"text": {"field": "t"}}}
        ]
      }
    ]
  }
]
}
